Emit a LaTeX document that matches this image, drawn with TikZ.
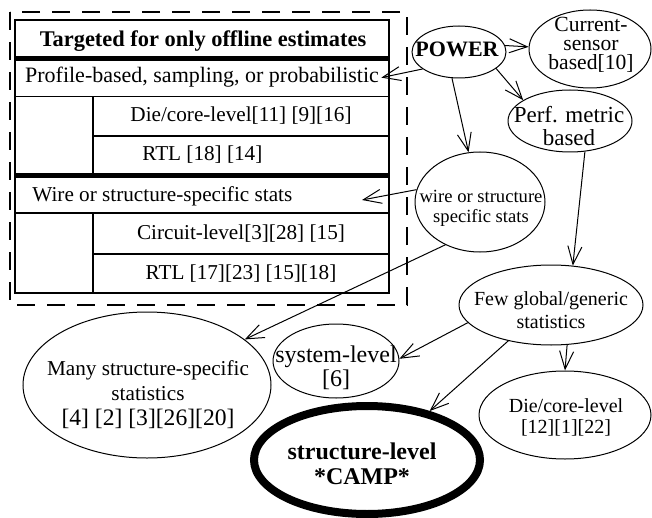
\documentclass[tikz,border=0pt]{standalone}
\usepackage{fontspec}
\setmainfont{Liberation Serif}
\usetikzlibrary{arrows.meta,shapes.geometric}
\tikzset{
  arr/.style={-{Straight Barb[length=9pt,width=7pt]},line width=0.5pt},
  bub/.style={ellipse,draw,line width=0.5pt,inner sep=0pt},
  txt/.style={align=center,inner sep=0pt},
}
\newcommand{\fs}[2]{\fontsize{#1}{#2}\selectfont}
\begin{document}
\begin{tikzpicture}[x=0.5pt,y=-0.5pt]
  \useasboundingbox (0,0) rectangle (652,518);
  % offline table
  \draw[line width=1pt,dash pattern=on 9pt off 6pt] (10,12) rectangle (407,305);
  \draw[line width=0.75pt] (15,20) rectangle (389,293);
  \draw[line width=2.5pt] (15,59) -- (389,59);
  \draw[line width=2.5pt] (15,175.5) -- (389,175.5);
  \foreach \y in {96.5,213} \draw[line width=0.75pt] (15,\y) -- (389,\y);
  \foreach \y in {136,254} \draw[line width=0.75pt] (93,\y) -- (389,\y);
  \draw[line width=0.75pt] (93,96.5) -- (93,175.5);
  \draw[line width=0.75pt] (93,213) -- (93,293);
  \node[anchor=base,font=\fs{11.2}{13}\bfseries] (title) at (203,47) {Targeted for only offline estimates};
  \node[anchor=base,inner sep=1pt,font=\fs{11}{13}] (prof) at (202,83) {Profile-based, sampling, or probabilistic};
  \node[anchor=base,font=\fs{10.6}{13}] (die) at (241,122) {Die/core-level[11] [9][16]};
  \node[anchor=base west,inner sep=0pt,font=\fs{10.6}{13}] (rtla) at (142,161) {RTL [18] [14]};
  \node[anchor=base west,inner sep=0pt,font=\fs{10.6}{13}] (wirerow) at (32,201) {Wire or structure-specific stats};
  \node[anchor=base,font=\fs{10.6}{13}] (circ) at (241,239) {Circuit-level[3][28] [15]};
  \node[anchor=base,font=\fs{10.6}{13}] (rtlb) at (241,279) {RTL [17][23] [15][18]};
  \coordinate (wiretip) at (362,200);
  % bubbles
  \node[bub,minimum width=47pt,minimum height=26pt] (power) at (459,52) {};
  \node[txt,font=\fs{11}{13}\bfseries] (power-t) at (457,49) {POWER};
  \node[bub,minimum width=61pt,minimum height=39pt] (cur) at (590,49) {};
  \node[txt,font=\fs{10.8}{9.5}] (cur-t) at (591,45) {Current-\\sensor\\based[10]};
  \node[bub,minimum width=62pt,minimum height=31pt] (perf) at (570,121) {};
  \node[txt,font=\fs{11.5}{11.5}] (perf-t) at (569,126) {Perf. metric\\based};
  \node[bub,minimum width=65pt,minimum height=50pt] (wire) at (480,202) {};
  \node[txt,font=\fs{9.3}{10}] (wire-t) at (481,208) {wire or structure\\specific stats};
  \node[bub,minimum width=92pt,minimum height=40pt] (few) at (551,305) {};
  \node[txt,font=\fs{10}{11.5}] (few-t) at (551,310) {Few global/generic\\statistics};
  \node[bub,minimum width=63pt,minimum height=37pt] (sys) at (336,361) {};
  \node[txt,font=\fs{12}{10.5}] (sys-t) at (336,368) {system-level\\{[6]}};
  \node[bub,minimum width=86pt,minimum height=44pt] (diec) at (565,415) {};
  \node[txt,font=\fs{10}{10.5}] (diec-t) at (566,417) {Die/core-level\\{[12][1][22]}};
  \node[bub,minimum width=124pt,minimum height=73pt] (many) at (147,385) {};
  \node[txt,font=\fs{10.6}{12.5}] (many-t) at (148,395) {Many structure-specific\\statistics\\{\fs{11.8}{12.5}[4] [2] [3][26][20]}};
  \node[bub,line width=4pt,minimum width=113pt,minimum height=54pt] (camp) at (367,460) {};
  \node[txt,font=\fs{12}{12.5}\bfseries] (camp-t) at (362,464) {structure-level\\*CAMP*};
  % arrows
  \draw[arr] (power.8) -- (cur.178);
  \draw[arr] (power.-24) -- (perf.156);
  \draw[arr] (power.-105) -- (wire.103);
  \draw[arr] (power.-155) -- (prof.east);
  \draw[arr] (wire.169) -- (wiretip);
  \draw[arr] (wire.-129) -- (many.25);
  \draw[arr] (perf.-64) -- (few.61);
  \draw[arr] (few.-168) -- (sys.2);
  \draw[arr] (few.-68) -- (diec.north);
  \draw[arr] (few.-140) -- (camp.38);
\end{tikzpicture}
\end{document}
